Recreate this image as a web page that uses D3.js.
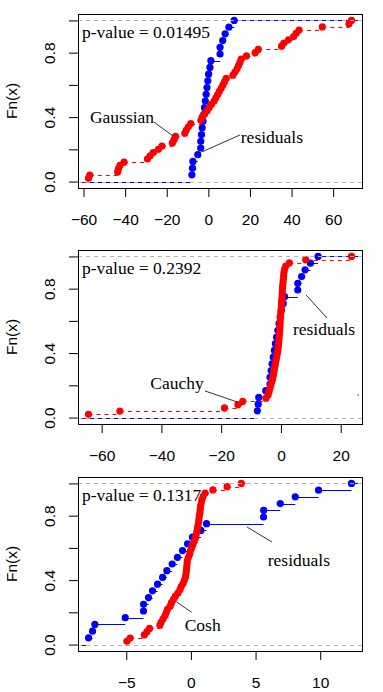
<!DOCTYPE html>
<html>
<head>
<meta charset="utf-8">
<script src="https://cdn.jsdelivr.net/npm/d3@7"></script>
<style>
body { margin: 0; background: #fff; }
</style>
</head>
<body>
<div id="chart"></div>
<script>
// residuals, the same sample in all three panels
var residuals = [-7.92, -7.61, -7.43, -5.08, -3.67, -3.66, -3.28, -2.97, -2.58, -2.19, -1.86, -1.45,
    -1.04, -0.65, -0.26, 0.12, 0.77, 1.21, 5.62, 5.63, 6.91, 8.07, 9.87, 12.42];

// fitted samples
var gaussian = [-57.6, -57.0, -43.6, -43.2, -42.5, -40.5, -29.3, -28.0, -26.5, -24.0, -22.3, -17.3,
    -16.5, -15.8, -11.3, -10.6, -9.6, -8.4, -3.6, -3.0, -1.8, -0.6, 0.4, 1.5, 2.8, 3.6, 4.5, 5.3,
    6.2, 7.0, 7.8, 8.6, 11.8, 12.8, 13.8, 14.5, 15.2, 15.8, 18.3, 22.5, 24.0, 35.2, 36.3, 38.5,
    41.0, 42.2, 43.6, 54.8, 67.6, 68.8];
var cauchy = [-64.4, -53.9, -18.9, -14.4, -12.8, -5.0, -4.3, -4.0, -3.7, -3.4, -3.1, -2.8, -2.6,
    -2.4, -2.2, -2.0, -1.8, -1.6, -1.4, -1.2, -1.0, -0.9, -0.8, -0.7, -0.6, -0.5, -0.4, -0.35, -0.3,
    -0.25, -0.2, -0.1, 0.0, 0.1, 0.15, 0.2, 0.3, 0.4, 0.45, 0.5, 0.6, 0.7, 0.8, 0.9, 1.0, 1.2, 1.6,
    2.8, 8.3, 23.6];
var cosh = [-4.95, -4.7, -3.6, -3.4, -3.2, -2.4, -2.3, -2.15, -2.0, -1.9, -1.8, -1.6, -1.5, -1.35,
    -1.2, -1.0, -0.85, -0.75, -0.6, -0.5, -0.42, -0.38, -0.35, -0.32, -0.3, -0.28, -0.2, -0.1,
    -0.05, 0.05, 0.15, 0.25, 0.35, 0.4, 0.45, 0.5, 0.55, 0.6, 0.62, 0.65, 0.7, 0.72, 0.75, 0.8,
    0.85, 0.95, 1.1, 1.7, 2.8, 3.9];

var distNames = ["Gaussian", "Cauchy", "Cosh"];
var pValues = ["0.01495", "0.2392", "0.1317"];

// tick labels
var xTicks1 = [-60, -40, -20, 0, 20, 40, 60];
var xTicks2 = [-60, -40, -20, 0, 20];
var xTicks3 = [-5, 0, 5, 10];
var yTicks = [0, 0.2, 0.4, 0.6, 0.8, 1];
var yTickLabels = ["0.0", "", "0.4", "", "0.8", ""];

window.onload = function() {
    draw();
};

function ecdfSegments(vals, lo, hi) {
    // horizontal pieces of the step function
    var s = vals.slice().sort(d3.ascending);
    var n = s.length;
    var segs = [{x1: lo, x2: s[0], y: 0}];
    s.forEach(function(v, i) {
        segs.push({x1: v, x2: i < n - 1 ? s[i + 1] : hi, y: (i + 1) / n});
    });
    return segs;
}

function ecdfPoints(vals) {
    var s = vals.slice().sort(d3.ascending);
    return s.map(function(v, i) { return {x: v, y: (i + 1) / s.length}; });
}

function draw() {
    var width = 383, height = 692;
    var left = 78, right = 362, boxh = 174;
    var col01 = "#b3b3b3";

    var panels = [
        {top: 14, sample: gaussian, ticks: xTicks1,
            notes: [
                {text: distNames[0], x: -41.5, y: 0.40, anchor: "middle", line: [-26.2, 0.37, -17.0, 0.283]},
                {text: "residuals", x: 15.6, y: 0.277, anchor: "start", line: [15.2, 0.289, -3.1, 0.184]}
            ]},
        {top: 250, sample: cauchy, ticks: xTicks2,
            notes: [
                {text: distNames[1], x: -34.8, y: 0.215, anchor: "middle", line: [-25.4, 0.165, -14.7, 0.097]},
                {text: "residuals", x: 14.4, y: 0.55, anchor: "middle", line: [15.4, 0.618, 8.4, 0.761]},
                {text: "", x: 0, y: 0, anchor: "middle", line: [25.6, 0.14, 26.1, 0.14]}
            ]},
        {top: 477, sample: cosh, ticks: xTicks3,
            notes: [
                {text: distNames[2], x: 0.91, y: 0.12, anchor: "middle", line: [0.06, 0.20, -1.1, 0.264]},
                {text: "residuals", x: 8.35, y: 0.525, anchor: "middle", line: [6.26, 0.637, 4.33, 0.73]}
            ]}
    ];

    var svg = d3.select("#chart").append("svg")
        .attr("width", width).attr("height", height)
        .style("font-family", "'Liberation Sans', Arial, sans-serif");

    panels.forEach(function(p, k) {
        // x limits like R: range of both samples plus 4%
        var ext = d3.extent(residuals.concat(p.sample));
        var pad = 0.04 * (ext[1] - ext[0]);
        var x = d3.scaleLinear().domain([ext[0] - pad, ext[1] + pad]).range([left, right]);
        var y = d3.scaleLinear().domain([-0.04, 1.04]).range([p.top + boxh, p.top]);

        var clipId = "clip" + k;
        svg.append("clipPath").attr("id", clipId).append("rect")
            .attr("x", left).attr("y", p.top).attr("width", right - left).attr("height", boxh);

        var g = svg.append("g").attr("clip-path", "url(#" + clipId + ")");

        function stepLayer(vals, color, dash, lo, hi) {
            g.append("g").selectAll("line").data(ecdfSegments(vals, lo, hi)).enter().append("line")
                .attr("x1", function(d) { return x(d.x1); })
                .attr("x2", function(d) { return x(d.x2); })
                .attr("y1", function(d) { return Math.round(y(d.y)) + 0.5; })
                .attr("y2", function(d) { return Math.round(y(d.y)) + 0.5; })
                .attr("stroke", color)
                .attr("stroke-width", 1)
                .attr("stroke-dasharray", dash);
            g.append("g").selectAll("circle").data(ecdfPoints(vals)).enter().append("circle")
                .attr("cx", function(d) { return x(d.x); })
                .attr("cy", function(d) { return y(d.y); })
                .attr("r", 3.6)
                .attr("fill", color);
            // 0 and 1 reference lines
            g.append("g").selectAll("line").data([0, 1]).enter().append("line")
                .attr("x1", left).attr("x2", right)
                .attr("y1", function(d) { return Math.round(y(d)) + 0.5; })
                .attr("y2", function(d) { return Math.round(y(d)) + 0.5; })
                .attr("stroke", col01)
                .attr("stroke-dasharray", "4,4");
        }

        // residuals: main plot, runs to the edges
        stepLayer(residuals, "#0000ff", null, x.domain()[0], x.domain()[1]);

        // fitted sample, added with its own limits
        var s = d3.extent(p.sample);
        var dr = 0.08 * (s[1] - s[0]);
        stepLayer(p.sample, "#ff0000", "4,4", s[0] - dr, s[1] + dr);

        // labels with leader lines
        p.notes.forEach(function(n) {
            svg.append("line")
                .attr("x1", x(n.line[0])).attr("y1", y(n.line[1]))
                .attr("x2", x(n.line[2])).attr("y2", y(n.line[3]))
                .attr("stroke", "#000").attr("stroke-width", 0.8);
            if (n.text) {
                svg.append("text")
                    .text(n.text)
                    .attr("x", x(n.x)).attr("y", y(n.y))
                    .attr("dy", "0.32em")
                    .attr("text-anchor", n.anchor)
                    .style("font-family", "'Liberation Serif', 'Times New Roman', serif")
                    .style("font-size", "17.5px");
            }
        });

        // p-value
        svg.append("text")
            .text("p-value = " + pValues[k])
            .attr("x", left + 4)
            .attr("y", y(0.89))
            .style("font-family", "'Liberation Serif', 'Times New Roman', serif")
            .style("font-size", "17.5px");

        // box
        svg.append("rect")
            .attr("x", left + 0.5).attr("y", p.top + 0.5)
            .attr("width", right - left).attr("height", boxh)
            .attr("fill", "none").attr("stroke", "#000");

        // x axis
        var xaxis = svg.append("g")
            .attr("transform", "translate(0," + (p.top + boxh) + ")")
            .call(d3.axisBottom(x).tickValues(p.ticks).tickSize(9).tickFormat(d3.format("d")));
        xaxis.select(".domain").remove();
        xaxis.selectAll("line").attr("stroke", "#000");
        xaxis.selectAll("text")
            .attr("y", 37).attr("dy", null)
            .attr("fill", "#000")
            .style("font-size", "15.5px")
            .style("font-family", "'Liberation Sans', Arial, sans-serif");

        // y axis
        var yaxis = svg.append("g")
            .attr("transform", "translate(" + left + ",0)")
            .call(d3.axisLeft(y).tickValues(yTicks).tickSize(9)
                .tickFormat(function(d, i) { return yTickLabels[i]; }));
        yaxis.select(".domain").remove();
        yaxis.selectAll("line").attr("stroke", "#000");
        yaxis.selectAll("text")
            .attr("x", null).attr("dy", null)
            .attr("text-anchor", "middle")
            .attr("transform", "translate(-23,0) rotate(-90)")
            .attr("fill", "#000")
            .style("font-size", "15.5px")
            .style("font-family", "'Liberation Sans', Arial, sans-serif");

        svg.append("text")
            .text("Fn(x)")
            .attr("text-anchor", "middle")
            .attr("transform", "translate(17," + (p.top + boxh / 2) + ") rotate(-90)")
            .style("font-size", "15.5px");
    });
}
</script>
</body>
</html>
